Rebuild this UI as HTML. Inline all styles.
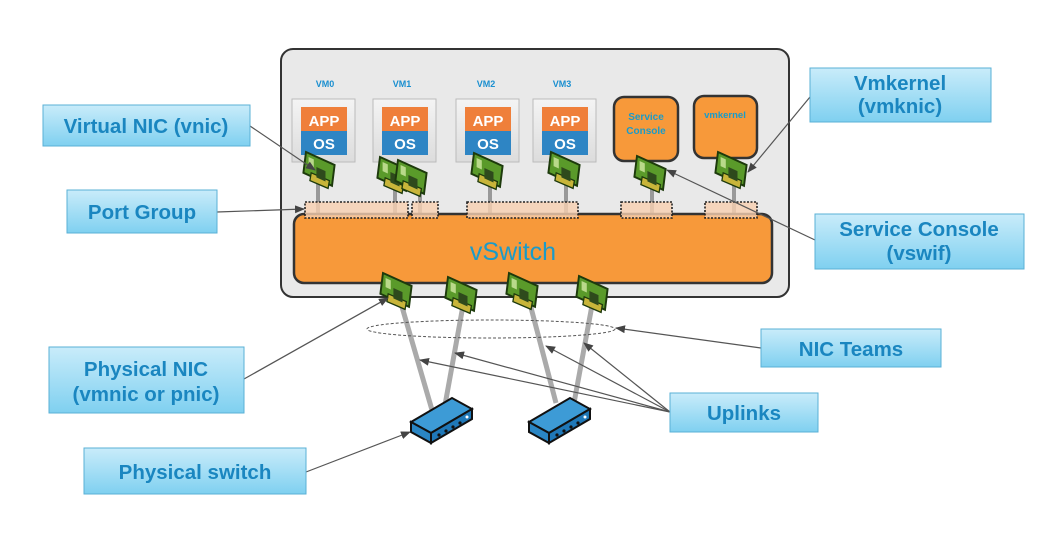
<!DOCTYPE html>
<html><head><meta charset="utf-8"><style>
html,body{margin:0;padding:0;background:#fff;}
svg{display:block;font-family:"Liberation Sans",sans-serif;}
.lbl{fill:#1a86c0;font-weight:bold;font-size:20.5px;text-anchor:middle;}
.box{fill:url(#lg);stroke:#5ab0d6;stroke-width:1;}
.ar{stroke:#555;stroke-width:1.2;fill:none;marker-end:url(#ah);}
.pg{fill:#f7cfb0;fill-opacity:0.8;stroke:#222;stroke-width:1.6;stroke-dasharray:2 1.5;}
.stem{stroke:#999;stroke-width:4;}
.vml{fill:#1a8fd0;font-weight:bold;font-size:9px;text-anchor:middle;}
.app{fill:#fff;font-weight:bold;font-size:15px;text-anchor:middle;}
</style></head><body>
<svg width="1042" height="549" viewBox="0 0 1042 549" xmlns="http://www.w3.org/2000/svg">
<defs>
<linearGradient id="lg" x1="0" y1="0" x2="0" y2="1"><stop offset="0" stop-color="#c9ecfa"/><stop offset="1" stop-color="#7fd0f0"/></linearGradient>
<linearGradient id="vmg" x1="0" y1="0" x2="0" y2="1"><stop offset="0" stop-color="#f4f4f4"/><stop offset="1" stop-color="#dcdcdc"/></linearGradient>
<marker id="ah" markerWidth="10" markerHeight="8" refX="9" refY="4" orient="auto" markerUnits="userSpaceOnUse"><path d="M0,0 L10,4 L0,8 z" fill="#444"/></marker>
<g id="nic0">
<polygon points="0,0 22,10 20,26 -2,16" fill="#5a9a2a" stroke="#1d3a0c" stroke-width="1.5"/>
<polygon points="4,16 18,22 17,28 3,22" fill="#c8b53a" stroke="#1d3a0c" stroke-width="1"/>
<rect x="8" y="8" width="7" height="8" fill="#2e4a1c" transform="skewY(24)"/>
<rect x="2" y="3" width="4" height="7" fill="#b9d98a" transform="skewY(24)"/>
</g>
<g id="nic"><use href="#nic0" transform="scale(1.3)"/></g>
<g id="sw">
<polygon points="0,24 41,0 61,11 20,35" fill="#3d9bd6" stroke="#111" stroke-width="2"/>
<polygon points="20,35 61,11 61,21 20,45" fill="#1f78b8" stroke="#111" stroke-width="2"/>
<polygon points="0,24 20,35 20,45 0,34" fill="#2a86c4" stroke="#111" stroke-width="2"/>
<circle cx="28" cy="37" r="1.6" fill="#111"/><circle cx="35" cy="33" r="1.6" fill="#111"/><circle cx="42" cy="29" r="1.6" fill="#111"/><circle cx="49" cy="25" r="1.6" fill="#111"/>
<circle cx="56" cy="19" r="1.5" fill="#fff"/>
</g>
</defs>

<rect x="281" y="49" width="508" height="248" rx="12" fill="#e9e9e9" stroke="#333" stroke-width="2"/>

<text class="vml" x="325" y="87">VM0</text>
<text class="vml" x="402" y="87">VM1</text>
<text class="vml" x="486" y="87">VM2</text>
<text class="vml" x="562" y="87">VM3</text>
<g>
<rect x="292" y="99" width="63" height="63" fill="url(#vmg)" stroke="#bbb"/>
<rect x="301" y="107" width="46" height="24" fill="#ef7f3a"/><rect x="301" y="131" width="46" height="24" fill="#2e85c4"/>
<text class="app" x="324" y="126">APP</text><text class="app" x="324" y="149">OS</text>
</g>
<g transform="translate(81,0)">
<rect x="292" y="99" width="63" height="63" fill="url(#vmg)" stroke="#bbb"/>
<rect x="301" y="107" width="46" height="24" fill="#ef7f3a"/><rect x="301" y="131" width="46" height="24" fill="#2e85c4"/>
<text class="app" x="324" y="126">APP</text><text class="app" x="324" y="149">OS</text>
</g>
<g transform="translate(164,0)">
<rect x="292" y="99" width="63" height="63" fill="url(#vmg)" stroke="#bbb"/>
<rect x="301" y="107" width="46" height="24" fill="#ef7f3a"/><rect x="301" y="131" width="46" height="24" fill="#2e85c4"/>
<text class="app" x="324" y="126">APP</text><text class="app" x="324" y="149">OS</text>
</g>
<g transform="translate(241,0)">
<rect x="292" y="99" width="63" height="63" fill="url(#vmg)" stroke="#bbb"/>
<rect x="301" y="107" width="46" height="24" fill="#ef7f3a"/><rect x="301" y="131" width="46" height="24" fill="#2e85c4"/>
<text class="app" x="324" y="126">APP</text><text class="app" x="324" y="149">OS</text>
</g>
<rect x="614" y="97" width="64" height="64" rx="10" fill="#f7993a" stroke="#333" stroke-width="2.5"/>
<text x="646" y="120" fill="#1a9bc9" font-size="10" font-weight="bold" text-anchor="middle">Service</text>
<text x="646" y="134" fill="#1a9bc9" font-size="10" font-weight="bold" text-anchor="middle">Console</text>
<rect x="694" y="96" width="63" height="62" rx="10" fill="#f7993a" stroke="#333" stroke-width="2.5"/>
<text x="725" y="118" fill="#1a9bc9" font-size="9.5" font-weight="bold" text-anchor="middle">vmkernel</text>

<line class="stem" x1="318" y1="180" x2="318" y2="216"/>
<line class="stem" x1="395" y1="180" x2="395" y2="216"/>
<line class="stem" x1="420" y1="183" x2="420" y2="216"/>
<line class="stem" x1="490" y1="180" x2="490" y2="216"/>
<line class="stem" x1="566" y1="180" x2="566" y2="216"/>
<line class="stem" x1="652" y1="180" x2="652" y2="216"/>
<line class="stem" x1="734" y1="180" x2="734" y2="216"/>

<rect x="294" y="214" width="478" height="69" rx="10" fill="#f7993a" stroke="#333" stroke-width="2.5"/>
<text x="513" y="260" fill="#1a9bc9" font-size="25" text-anchor="middle">vSwitch</text>

<rect class="pg" x="305" y="202" width="103" height="16"/>
<rect class="pg" x="412" y="202" width="26" height="16"/>
<rect class="pg" x="467" y="202" width="111" height="16"/>
<rect class="pg" x="621" y="202" width="51" height="16"/>
<rect class="pg" x="705" y="202" width="52" height="16"/>

<use href="#nic" x="306" y="152"/>
<use href="#nic" x="380" y="157"/>
<use href="#nic" x="398" y="160"/>
<use href="#nic" x="474" y="153"/>
<use href="#nic" x="551" y="152"/>
<use href="#nic" x="637" y="156"/>
<use href="#nic" x="718" y="152"/>

<line stroke="#aaa" stroke-width="5" x1="400" y1="300" x2="432" y2="410"/>
<line stroke="#aaa" stroke-width="5" x1="464" y1="300" x2="445" y2="405"/>
<line stroke="#aaa" stroke-width="5" x1="529" y1="300" x2="556" y2="403"/>
<line stroke="#aaa" stroke-width="5" x1="593" y1="300" x2="574" y2="403"/>

<use href="#nic" x="383" y="273"/>
<use href="#nic" x="448" y="277"/>
<use href="#nic" x="509" y="273"/>
<use href="#nic" x="579" y="276"/>

<ellipse cx="491" cy="329" rx="124" ry="9" fill="none" stroke="#555" stroke-width="1" stroke-dasharray="3 2"/>

<use href="#sw" x="411" y="398"/>
<use href="#sw" x="529" y="398"/>

<line class="ar" x1="250" y1="126" x2="315" y2="170"/>
<line class="ar" x1="217" y1="212" x2="304" y2="209"/>
<line class="ar" x1="810" y1="97" x2="748" y2="172"/>
<line class="ar" x1="815" y1="240" x2="667" y2="170"/>
<line class="ar" x1="761" y1="348" x2="616" y2="328"/>
<line class="ar" x1="244" y1="379" x2="388" y2="298"/>
<line class="ar" x1="306" y1="472" x2="410" y2="432"/>
<line class="ar" x1="670" y1="412" x2="420" y2="360"/>
<line class="ar" x1="670" y1="412" x2="455" y2="353"/>
<line class="ar" x1="670" y1="412" x2="546" y2="346"/>
<line class="ar" x1="670" y1="412" x2="584" y2="343"/>

<rect class="box" x="43" y="105" width="207" height="41"/>
<text class="lbl" x="146" y="133">Virtual NIC (vnic)</text>
<rect class="box" x="67" y="190" width="150" height="43"/>
<text class="lbl" x="142" y="219">Port Group</text>
<rect class="box" x="810" y="68" width="181" height="54"/>
<text class="lbl" x="900" y="90">Vmkernel</text>
<text class="lbl" x="900" y="113">(vmknic)</text>
<rect class="box" x="815" y="214" width="209" height="55"/>
<text class="lbl" x="919" y="236">Service Console</text>
<text class="lbl" x="919" y="260">(vswif)</text>
<rect class="box" x="761" y="329" width="180" height="38"/>
<text class="lbl" x="851" y="356">NIC Teams</text>
<rect class="box" x="49" y="347" width="195" height="66"/>
<text class="lbl" x="146" y="376">Physical NIC</text>
<text class="lbl" x="146" y="401">(vmnic or pnic)</text>
<rect class="box" x="670" y="393" width="148" height="39"/>
<text class="lbl" x="744" y="420">Uplinks</text>
<rect class="box" x="84" y="448" width="222" height="46"/>
<text class="lbl" x="195" y="479">Physical switch</text>
</svg>
</body></html>
